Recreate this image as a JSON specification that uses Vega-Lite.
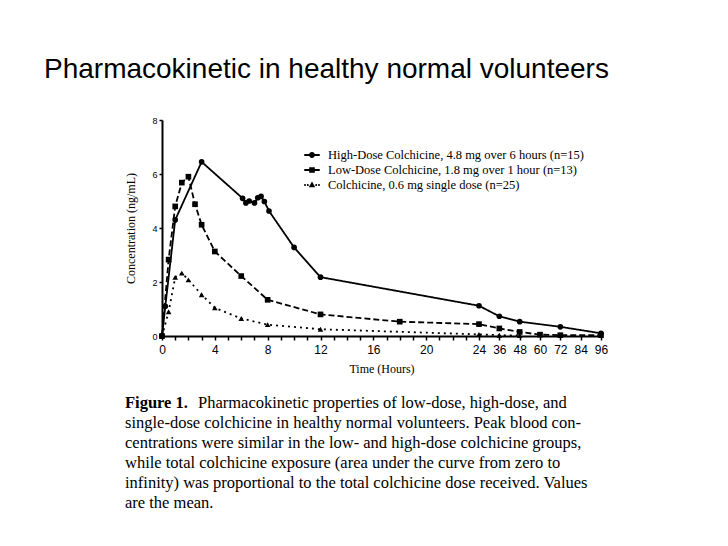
{
  "$schema": "https://vega.github.io/schema/vega-lite/v6.json",
  "background": "white",
  "padding": {"left": 43, "top": 56, "right": 5, "bottom": 5},
  "title": {
    "text": "Pharmacokinetic in healthy normal volunteers",
    "anchor": "start",
    "dx": -81,
    "offset": 32,
    "font": "Liberation Sans",
    "fontSize": 28,
    "fontWeight": "normal",
    "color": "black"
  },
  "columns": 1,
  "align": "none",
  "spacing": 19,
  "datasets": {
    "pk": [
      {"series": "High-Dose Colchicine, 4.8 mg over 6 hours (n=15)", "time": 0, "conc": 0},
      {"series": "High-Dose Colchicine, 4.8 mg over 6 hours (n=15)", "time": 0.25, "conc": 1.1},
      {"series": "High-Dose Colchicine, 4.8 mg over 6 hours (n=15)", "time": 1, "conc": 4.3},
      {"series": "High-Dose Colchicine, 4.8 mg over 6 hours (n=15)", "time": 3, "conc": 6.45},
      {"series": "High-Dose Colchicine, 4.8 mg over 6 hours (n=15)", "time": 6.1, "conc": 5.1},
      {"series": "High-Dose Colchicine, 4.8 mg over 6 hours (n=15)", "time": 6.35, "conc": 4.93},
      {"series": "High-Dose Colchicine, 4.8 mg over 6 hours (n=15)", "time": 6.6, "conc": 5.0},
      {"series": "High-Dose Colchicine, 4.8 mg over 6 hours (n=15)", "time": 7, "conc": 4.93},
      {"series": "High-Dose Colchicine, 4.8 mg over 6 hours (n=15)", "time": 7.25, "conc": 5.12},
      {"series": "High-Dose Colchicine, 4.8 mg over 6 hours (n=15)", "time": 7.5, "conc": 5.17},
      {"series": "High-Dose Colchicine, 4.8 mg over 6 hours (n=15)", "time": 7.75, "conc": 4.98},
      {"series": "High-Dose Colchicine, 4.8 mg over 6 hours (n=15)", "time": 8.1, "conc": 4.63},
      {"series": "High-Dose Colchicine, 4.8 mg over 6 hours (n=15)", "time": 10, "conc": 3.28},
      {"series": "High-Dose Colchicine, 4.8 mg over 6 hours (n=15)", "time": 12, "conc": 2.18},
      {"series": "High-Dose Colchicine, 4.8 mg over 6 hours (n=15)", "time": 24, "conc": 1.12},
      {"series": "High-Dose Colchicine, 4.8 mg over 6 hours (n=15)", "time": 36, "conc": 0.73},
      {"series": "High-Dose Colchicine, 4.8 mg over 6 hours (n=15)", "time": 48, "conc": 0.53},
      {"series": "High-Dose Colchicine, 4.8 mg over 6 hours (n=15)", "time": 72, "conc": 0.34},
      {"series": "High-Dose Colchicine, 4.8 mg over 6 hours (n=15)", "time": 96, "conc": 0.1},
      {"series": "Low-Dose Colchicine, 1.8 mg over 1 hour (n=13)", "time": 0, "conc": 0},
      {"series": "Low-Dose Colchicine, 1.8 mg over 1 hour (n=13)", "time": 0.5, "conc": 2.83},
      {"series": "Low-Dose Colchicine, 1.8 mg over 1 hour (n=13)", "time": 1, "conc": 4.8},
      {"series": "Low-Dose Colchicine, 1.8 mg over 1 hour (n=13)", "time": 1.5, "conc": 5.68},
      {"series": "Low-Dose Colchicine, 1.8 mg over 1 hour (n=13)", "time": 2, "conc": 5.9},
      {"series": "Low-Dose Colchicine, 1.8 mg over 1 hour (n=13)", "time": 2.5, "conc": 4.88},
      {"series": "Low-Dose Colchicine, 1.8 mg over 1 hour (n=13)", "time": 3, "conc": 4.12},
      {"series": "Low-Dose Colchicine, 1.8 mg over 1 hour (n=13)", "time": 4, "conc": 3.13},
      {"series": "Low-Dose Colchicine, 1.8 mg over 1 hour (n=13)", "time": 6, "conc": 2.22},
      {"series": "Low-Dose Colchicine, 1.8 mg over 1 hour (n=13)", "time": 8, "conc": 1.34},
      {"series": "Low-Dose Colchicine, 1.8 mg over 1 hour (n=13)", "time": 12, "conc": 0.8},
      {"series": "Low-Dose Colchicine, 1.8 mg over 1 hour (n=13)", "time": 18, "conc": 0.53},
      {"series": "Low-Dose Colchicine, 1.8 mg over 1 hour (n=13)", "time": 24, "conc": 0.44},
      {"series": "Low-Dose Colchicine, 1.8 mg over 1 hour (n=13)", "time": 36, "conc": 0.28},
      {"series": "Low-Dose Colchicine, 1.8 mg over 1 hour (n=13)", "time": 48, "conc": 0.15},
      {"series": "Low-Dose Colchicine, 1.8 mg over 1 hour (n=13)", "time": 60, "conc": 0.05},
      {"series": "Low-Dose Colchicine, 1.8 mg over 1 hour (n=13)", "time": 72, "conc": 0.03},
      {"series": "Low-Dose Colchicine, 1.8 mg over 1 hour (n=13)", "time": 96, "conc": 0.03},
      {"series": "Colchicine, 0.6 mg single dose (n=25)", "time": 0, "conc": 0},
      {"series": "Colchicine, 0.6 mg single dose (n=25)", "time": 0.5, "conc": 0.9},
      {"series": "Colchicine, 0.6 mg single dose (n=25)", "time": 1, "conc": 2.17},
      {"series": "Colchicine, 0.6 mg single dose (n=25)", "time": 1.5, "conc": 2.33},
      {"series": "Colchicine, 0.6 mg single dose (n=25)", "time": 2, "conc": 2.08},
      {"series": "Colchicine, 0.6 mg single dose (n=25)", "time": 3, "conc": 1.53},
      {"series": "Colchicine, 0.6 mg single dose (n=25)", "time": 4, "conc": 1.04},
      {"series": "Colchicine, 0.6 mg single dose (n=25)", "time": 6, "conc": 0.65},
      {"series": "Colchicine, 0.6 mg single dose (n=25)", "time": 8, "conc": 0.42},
      {"series": "Colchicine, 0.6 mg single dose (n=25)", "time": 12, "conc": 0.25},
      {"series": "Colchicine, 0.6 mg single dose (n=25)", "time": 24, "conc": 0.06},
      {"series": "Colchicine, 0.6 mg single dose (n=25)", "time": 36, "conc": 0.03},
      {"series": "Colchicine, 0.6 mg single dose (n=25)", "time": 48, "conc": 0.02}
    ],
    "caption": [
      {"line": 1, "part": "bold", "text": "Figure 1."},
      {"line": 1, "part": "rest", "text": "Pharmacokinetic properties of low-dose, high-dose, and"},
      {"line": 2, "part": "body", "text": "single-dose colchicine in healthy normal volunteers. Peak blood con-"},
      {"line": 3, "part": "body", "text": "centrations were similar in the low- and high-dose colchicine groups,"},
      {"line": 4, "part": "body", "text": "while total colchicine exposure (area under the curve from zero to"},
      {"line": 5, "part": "body", "text": "infinity) was proportional to the total colchicine dose received. Values"},
      {"line": 6, "part": "body", "text": "are the mean."}
    ]
  },
  "concat": [
    {
      "width": 439,
      "height": 216,
      "data": {"name": "pk"},
      "encoding": {
        "x": {
          "field": "time",
          "type": "quantitative",
          "scale": {"domain": [0, 24, 96], "range": [0, 317, 439], "nice": false, "zero": false},
          "axis": {
            "title": "Time (Hours)",
            "values": [0,1,2,3,4,5,6,7,8,9,10,11,12,13,14,15,16,17,18,19,20,21,22,23,24,36,48,60,72,84,96],
            "labelExpr": "datum.value <= 24 && datum.value % 4 != 0 ? '' : datum.label",
            "labelOverlap": false,
            "labelFlush": false,
            "labelBound": false,
            "labelFont": "Liberation Sans",
            "labelFontSize": 12,
            "labelColor": "black",
            "labelPadding": 4,
            "tickSize": 4,
            "tickWidth": 1.5,
            "tickColor": "black",
            "domainColor": "black",
            "domainWidth": 2,
            "grid": false,
            "titleFont": "Liberation Serif",
            "titleFontSize": 12,
            "titleFontWeight": "normal",
            "titleColor": "black",
            "titlePadding": 8
          }
        },
        "y": {
          "field": "conc",
          "type": "quantitative",
          "scale": {"domain": [0, 8], "nice": false},
          "axis": {
            "title": "Concentration (ng/mL)",
            "values": [0, 2, 4, 6, 8],
            "labelFont": "Liberation Sans",
            "labelFontSize": 9,
            "labelColor": "black",
            "labelPadding": 2,
            "tickSize": 3,
            "tickWidth": 1.5,
            "tickColor": "black",
            "domainColor": "black",
            "domainWidth": 2,
            "grid": false,
            "titleFont": "Liberation Serif",
            "titleFontSize": 12,
            "titleFontWeight": "normal",
            "titleColor": "black",
            "titlePadding": 14
          }
        }
      },
      "layer": [
        {
          "mark": {"type": "line", "color": "black", "strokeWidth": 1.8},
          "encoding": {
            "strokeDash": {
              "field": "series",
              "type": "nominal",
              "scale": {
                "domain": ["High-Dose Colchicine, 4.8 mg over 6 hours (n=15)", "Low-Dose Colchicine, 1.8 mg over 1 hour (n=13)", "Colchicine, 0.6 mg single dose (n=25)"],
                "range": [[1, 0], [6, 3], [2, 4]]
              },
              "legend": null
            }
          }
        },
        {
          "mark": {"type": "point", "filled": true, "color": "black", "size": 32, "opacity": 1},
          "encoding": {
            "shape": {
              "field": "series",
              "type": "nominal",
              "scale": {
                "domain": ["High-Dose Colchicine, 4.8 mg over 6 hours (n=15)", "Low-Dose Colchicine, 1.8 mg over 1 hour (n=13)", "Colchicine, 0.6 mg single dose (n=25)"],
                "range": ["circle", "square", "triangle-up"]
              },
              "legend": null
            }
          }
        },
        {
          "mark": {"type": "point", "filled": true, "color": "black", "opacity": 0},
          "encoding": {
            "shape": {
              "field": "series",
              "type": "nominal",
              "scale": {
                "domain": ["High-Dose Colchicine, 4.8 mg over 6 hours (n=15)", "Low-Dose Colchicine, 1.8 mg over 1 hour (n=13)", "Colchicine, 0.6 mg single dose (n=25)"],
                "range": [
                  "M-1,-0.12H1V0.12H-1ZM0.38,0A0.38,0.38,0,1,1,-0.38,0A0.38,0.38,0,1,1,0.38,0Z",
                  "M-1,-0.12H1V0.12H-1ZM-0.36,-0.36H0.36V0.36H-0.36Z",
                  "M-1,-0.12H-0.8V0.12H-1ZM-0.64,-0.12H-0.44V0.12H-0.64ZM0.44,-0.12H0.64V0.12H0.44ZM0.8,-0.12H1V0.12H0.8ZM0,-0.45L0.42,0.3H-0.42Z"
                ]
              },
              "legend": {
                "title": null,
                "orient": "none",
                "legendX": 142,
                "legendY": 27,
                "padding": 0,
                "symbolSize": 240,
                "symbolStrokeWidth": 0,
                "symbolOpacity": 1,
                "symbolFillColor": "black",
                "labelFont": "Liberation Serif",
                "labelFontSize": 12.5,
                "labelColor": "black",
                "labelLimit": 400,
                "labelOffset": 8,
                "rowPadding": 0
              }
            }
          }
        }
      ],
      "resolve": {"scale": {"shape": "independent"}, "legend": {"shape": "independent"}}
    },
    {
      "width": 470,
      "height": {"step": 20},
      "data": {"name": "caption"},
      "encoding": {
        "x": {"datum": 0, "type": "quantitative", "scale": {"domain": [0, 1]}, "axis": null},
        "y": {"field": "line", "type": "ordinal", "axis": null},
        "text": {"field": "text", "type": "nominal"}
      },
      "layer": [
        {
          "transform": [{"filter": "datum.part == 'body'"}],
          "mark": {"type": "text", "align": "left", "baseline": "middle", "dx": -37, "font": "Liberation Serif", "fontSize": 16.5, "color": "black"}
        },
        {
          "transform": [{"filter": "datum.part == 'bold'"}],
          "mark": {"type": "text", "align": "left", "baseline": "middle", "dx": -37, "font": "Liberation Serif", "fontSize": 16.5, "fontWeight": "bold", "color": "black"}
        },
        {
          "transform": [{"filter": "datum.part == 'rest'"}],
          "mark": {"type": "text", "align": "left", "baseline": "middle", "dx": 36, "font": "Liberation Serif", "fontSize": 16.5, "color": "black"}
        }
      ]
    }
  ],
  "config": {"view": {"stroke": null}, "font": "Liberation Sans"}
}
